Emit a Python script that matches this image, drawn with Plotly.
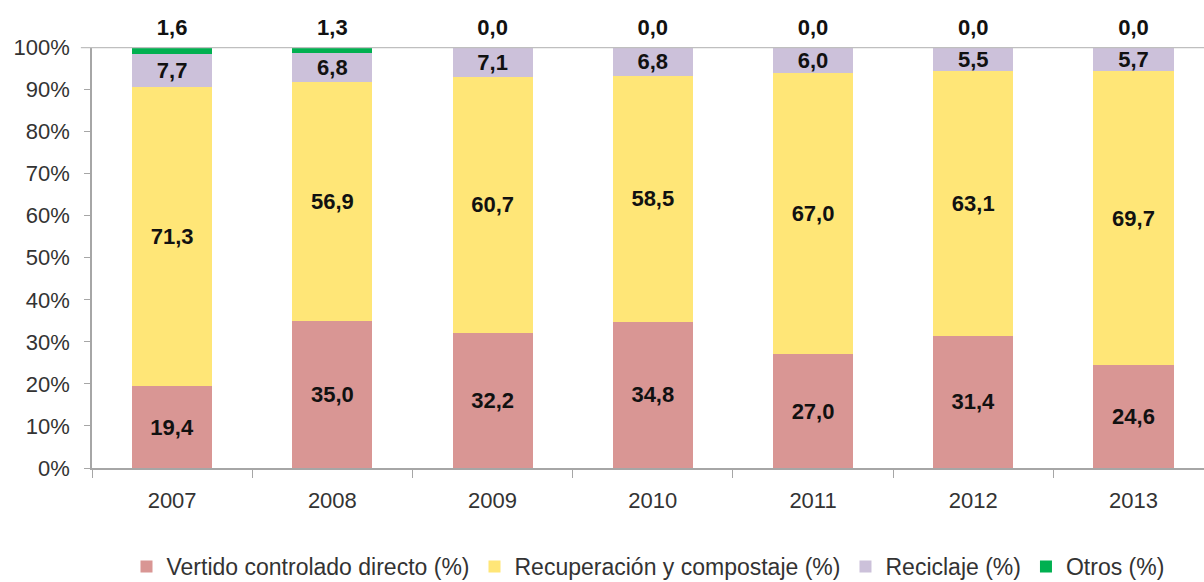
import plotly.graph_objects as go

years = ["2007", "2008", "2009", "2010", "2011", "2012", "2013"]
vertido = [19.4, 35.0, 32.2, 34.8, 27.0, 31.4, 24.6]
recuperacion = [71.3, 56.9, 60.7, 58.5, 67.0, 63.1, 69.7]
reciclaje = [7.7, 6.8, 7.1, 6.8, 6.0, 5.5, 5.7]
otros = [1.6, 1.3, 0.0, 0.0, 0.0, 0.0, 0.0]
y_ticks = [0, 10, 20, 30, 40, 50, 60, 70, 80, 90, 100]
y_tick_labels = [f"{v}%" for v in y_ticks]

series = [
    ("Vertido controlado directo (%)", vertido, "#D99694", True),
    ("Recuperación y compostaje (%)", recuperacion, "#FFE677", True),
    ("Reciclaje (%)", reciclaje, "#CCC1DA", True),
    ("Otros (%)", otros, "#00B050", False),
]

FONT = "Liberation Sans, Arial"
label_font = dict(family=FONT, size=22, color="#111111", weight="bold")

fig = go.Figure()
for name, vals, color, labelled in series:
    fig.add_trace(go.Bar(
        name=name, x=years, y=vals,
        marker=dict(color=color, line=dict(width=0)),
        width=0.5,
        texttemplate="%{y:.1f}" if labelled else None,
        textposition="inside" if labelled else "none",
        insidetextanchor="middle",
        constraintext="none",
        textfont=label_font,
    ))

# labels for "Otros" sit on top of the (100 %) stack
totals = [min(a + b + c + d, 100.0) for a, b, c, d in zip(vertido, recuperacion, reciclaje, otros)]
fig.add_trace(go.Scatter(
    x=years, y=totals, customdata=otros, mode="markers+text",
    marker=dict(size=10, color="rgba(0,0,0,0)"),
    texttemplate="%{customdata:.1f}", textposition="top center",
    textfont=label_font, showlegend=False, cliponaxis=False, hoverinfo="skip",
))

fig.update_layout(
    barmode="stack",
    separators=", ",
    width=1204, height=582,
    margin=dict(l=92, r=0, t=47, b=114, autoexpand=False),
    plot_bgcolor="white", paper_bgcolor="white",
    font=dict(family=FONT, size=22, color="#333333"),
    showlegend=True,
    legend=dict(orientation="h", x=0.5, xanchor="center", xref="paper",
                y=-0.234, yanchor="middle", font=dict(size=23, color="#333333"),
                traceorder="normal", itemsizing="constant"),
    xaxis=dict(range=[-0.5, 6.44], showline=True, linecolor="#A6A6A6", linewidth=1.5,
               ticks="outside", tickson="boundaries", ticklen=8, tickcolor="#A6A6A6",
               showgrid=False, tickfont=dict(size=22), automargin=False,
               ticklabelstandoff=12),
    yaxis=dict(range=[0, 100.12], tickmode="array", tickvals=y_ticks, ticktext=y_tick_labels,
               showline=True, linecolor="#A6A6A6", linewidth=1.5, ticks="outside",
               ticklen=6, tickcolor="#A6A6A6", showgrid=False, zeroline=False,
               tickfont=dict(size=22), automargin=False, ticklabelstandoff=10),
    shapes=[dict(type="line", xref="paper", yref="y", x0=-0.01, x1=1, y0=100, y1=100,
                 line=dict(color="#BFBFBF", width=1.5))],
)

fig.write_html("out.html", config={"displayModeBar": False},
               post_script="document.body.style.margin='0';")
